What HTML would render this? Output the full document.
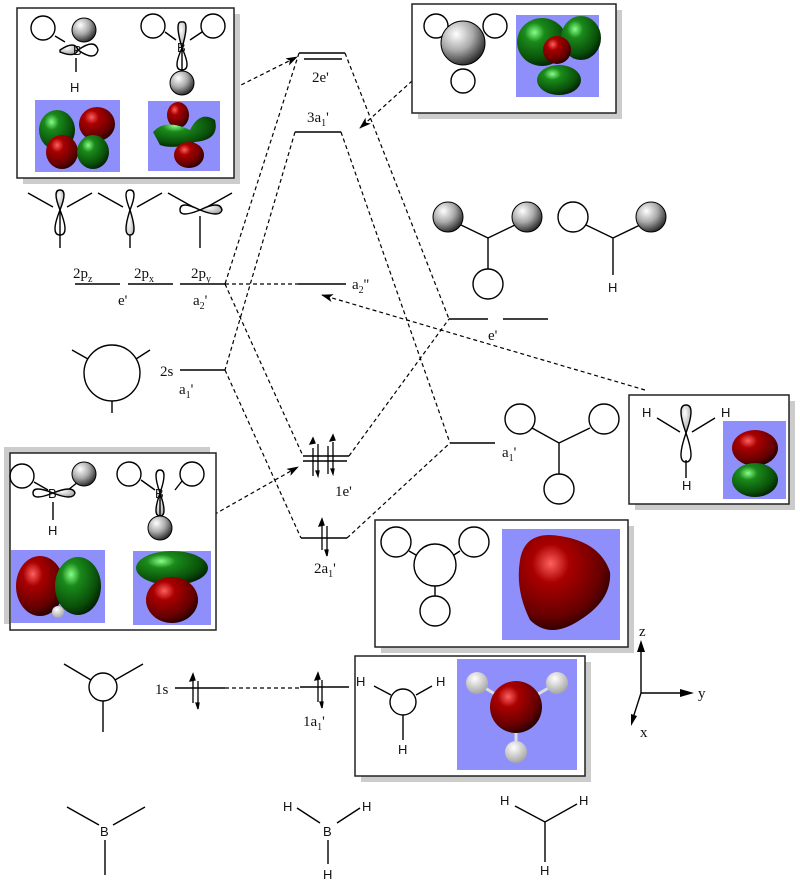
<!DOCTYPE html>
<html><head><meta charset="utf-8"><style>
html,body{margin:0;padding:0;background:#fff;}
svg{display:block;}
text{font-family:"Liberation Serif",serif;font-size:15px;fill:#111;}
.sans{font-family:"Liberation Sans",sans-serif;font-size:13px;}
</style></head><body>
<svg width="800" height="882" viewBox="0 0 800 882" xmlns="http://www.w3.org/2000/svg">
<defs>
<radialGradient id="gs" cx="0.35" cy="0.3" r="0.75"><stop offset="0" stop-color="#fff"/><stop offset="0.5" stop-color="#aaa"/><stop offset="1" stop-color="#222"/></radialGradient>
<radialGradient id="rd" cx="0.35" cy="0.3" r="0.8"><stop offset="0" stop-color="#ff6060"/><stop offset="0.25" stop-color="#a00"/><stop offset="0.7" stop-color="#600"/><stop offset="1" stop-color="#100"/></radialGradient>
<radialGradient id="gr" cx="0.35" cy="0.3" r="0.8"><stop offset="0" stop-color="#8f8"/><stop offset="0.25" stop-color="#1a8a1a"/><stop offset="0.7" stop-color="#0a500a"/><stop offset="1" stop-color="#010"/></radialGradient>
<radialGradient id="lb" cx="0.4" cy="0.3" r="0.8"><stop offset="0" stop-color="#fff"/><stop offset="1" stop-color="#999"/></radialGradient>
<marker id="ah" markerWidth="12" markerHeight="8" refX="11" refY="4" orient="auto" markerUnits="userSpaceOnUse"><path d="M0,0 L12,4 L0,8 L3,4 Z" fill="#000"/></marker>
</defs>

<g fill="none" stroke="#000" stroke-width="1.5">
<path d="M299,53H345 M304,59H342"/>
<path d="M295,132H341"/>
<path d="M298,284H346"/>
<path d="M75,284H120 M128,284H173 M180,284H225"/>
<path d="M180,370H225"/>
<path d="M303,456H349 M303,461H347"/>
<path d="M301,538H347"/>
<path d="M175,688H225 M300,687H349"/>
<path d="M449,319H488 M503,319H548"/>
<path d="M450,443H495"/>
</g>
<g stroke="#000" stroke-width="1.3" fill="#000">
<path d="M313,448V476 M318,444V472 M328,446V474 M333,442V470"/>
<path d="M310,444l3,-6 2,5z M318,476l-2,-5 3,0z M330,441l3,-6 2,5z M333,474l-2,-5 3,0z"/>
<path d="M322,520V550 M327,526V556 M319,526l3,-7 2,6z M327,556l-2,-6 3,0z"/>
<path d="M193,675V703 M198,681V709 M190,681l3,-7 2,6z M198,709l-2,-6 3,0z"/>
<path d="M318,674V702 M322,680V708 M315,680l3,-7 2,6z M322,708l-2,-6 3,0z"/>
</g>
<g fill="none" stroke="#000" stroke-width="1.2" stroke-dasharray="4,3">
<path d="M299,53L225,284 M295,132L225,370 M225,284L303,456 M225,370L301,538"/>
<path d="M345,53L449,319 M341,132L450,443 M349,456L449,319 M347,538L450,443"/>
<path d="M225,284H298 M225,688H300"/>
<path d="M235,88L297,57" marker-end="url(#ah)"/>
<path d="M433,62L360,128" marker-end="url(#ah)"/>
<path d="M645,390L322,295" marker-end="url(#ah)"/>
<path d="M208,518L298,467" marker-end="url(#ah)"/>
</g>
<text x="312" y="82">2e'</text>
<text x="307" y="122">3a<tspan font-size="10" dy="4">1</tspan><tspan dy="-4">'</tspan></text>
<text x="352" y="289">a<tspan font-size="10" dy="4">2</tspan><tspan dy="-4">''</tspan></text>
<text x="73" y="278">2p<tspan font-size="10" dy="4">z</tspan></text>
<text x="134" y="278">2p<tspan font-size="10" dy="4">x</tspan></text>
<text x="191" y="278">2p<tspan font-size="10" dy="4">y</tspan></text>
<text x="118" y="305">e'</text>
<text x="193" y="305">a<tspan font-size="10" dy="4">2</tspan><tspan dy="-4">'</tspan></text>
<text x="160" y="376">2s</text>
<text x="179" y="394">a<tspan font-size="10" dy="4">1</tspan><tspan dy="-4">'</tspan></text>
<text x="335" y="496">1e'</text>
<text x="314" y="573">2a<tspan font-size="10" dy="4">1</tspan><tspan dy="-4">'</tspan></text>
<text x="155" y="694">1s</text>
<text x="303" y="726">1a<tspan font-size="10" dy="4">1</tspan><tspan dy="-4">'</tspan></text>
<text x="488" y="340">e'</text>
<text x="502" y="457">a<tspan font-size="10" dy="4">1</tspan><tspan dy="-4">'</tspan></text>

<g fill="#ccc">
<rect x="23" y="14" width="217" height="170"/>
<rect x="418" y="10" width="204" height="109"/>
<rect x="635" y="401" width="160" height="109"/>
<rect x="4" y="447" width="206" height="177"/>
<rect x="381" y="526" width="253" height="127"/>
<rect x="361" y="662" width="230" height="120"/>
</g>
<g fill="#fff" stroke="#222" stroke-width="1.5">
<rect x="17" y="8" width="217" height="170"/>
<rect x="412" y="4" width="204" height="109"/>
<rect x="629" y="395" width="160" height="109"/>
<rect x="10" y="453" width="206" height="177"/>
<rect x="375" y="520" width="253" height="127"/>
<rect x="355" y="656" width="230" height="120"/>
</g>
<g fill="#8f8ffc">
<rect x="35" y="100" width="85" height="72"/>
<rect x="148" y="101" width="72" height="70"/>
<rect x="516" y="15" width="83" height="82"/>
<rect x="723" y="421" width="63" height="78"/>
<rect x="11" y="550" width="94" height="73"/>
<rect x="133" y="551" width="78" height="74"/>
<rect x="502" y="529" width="118" height="111"/>
<rect x="457" y="659" width="120" height="111"/>
</g>
<g>
<ellipse cx="57" cy="130" rx="18" ry="20" fill="url(#gr)"/>
<ellipse cx="97" cy="124" rx="18" ry="17" fill="url(#rd)"/>
<ellipse cx="62" cy="152" rx="16" ry="17" fill="url(#rd)"/>
<ellipse cx="93" cy="152" rx="16" ry="17" fill="url(#gr)"/>
<ellipse cx="178" cy="115" rx="11" ry="13" fill="url(#rd)"/>
<path d="M153,132 Q165,118 190,130 Q200,110 215,120 Q220,140 195,142 Q175,150 160,145 Z" fill="url(#gr)"/>
<ellipse cx="189" cy="155" rx="15" ry="13" fill="url(#rd)"/>
<ellipse cx="542" cy="42" rx="25" ry="24" fill="url(#gr)"/>
<ellipse cx="581" cy="38" rx="20" ry="22" fill="url(#gr)"/>
<ellipse cx="557" cy="50" rx="14" ry="14" fill="url(#rd)"/>
<ellipse cx="559" cy="80" rx="22" ry="15" fill="url(#gr)"/>
<ellipse cx="755" cy="448" rx="23" ry="18" fill="url(#rd)"/>
<ellipse cx="755" cy="480" rx="23" ry="17" fill="url(#gr)"/>
<ellipse cx="40" cy="586" rx="24" ry="30" fill="url(#rd)"/>
<ellipse cx="78" cy="586" rx="23" ry="29" fill="url(#gr)"/>
<circle cx="58" cy="612" r="6" fill="url(#lb)"/>
<ellipse cx="172" cy="568" rx="36" ry="17" fill="url(#gr)"/>
<ellipse cx="172" cy="600" rx="26" ry="23" fill="url(#rd)"/>
<path d="M520,560 Q525,530 560,536 Q600,542 610,572 Q612,600 580,620 Q550,640 530,620 Q515,590 520,560 Z" fill="url(#rd)"/>
<path d="M477,683L516,707L557,683 M516,707V752" fill="none" stroke="#ddd" stroke-width="3"/>
<circle cx="477" cy="683" r="11" fill="url(#lb)"/>
<circle cx="557" cy="683" r="11" fill="url(#lb)"/>
<circle cx="516" cy="752" r="11" fill="url(#lb)"/>
<circle cx="516" cy="707" r="26" fill="url(#rd)"/>
</g>

<g fill="none" stroke="#000" stroke-width="1.4">
<circle cx="43" cy="28" r="12"/>
<path d="M55,36L65,42 M78,38L92,32 M76,58V72"/>
<path d="M60,50 Q75,40 78,50 Q75,58 60,52 Z" fill="url(#lb)"/>
<path d="M78,50 Q95,38 98,50 Q95,62 78,50Z"/>
<circle cx="153" cy="26" r="12"/><circle cx="213" cy="26" r="12"/>
<path d="M165,32L176,40 M190,40L202,32"/>
<path d="M182,48 Q174,20 182,22 Q190,20 182,48Z" fill="url(#lb)"/>
<path d="M182,48 Q172,70 182,70 Q192,70 182,48Z M182,48V70"/>
<circle cx="436" cy="26" r="12"/><circle cx="495" cy="26" r="12"/><circle cx="463" cy="81" r="12"/>
<path d="M28,193L53,207 M92,193L67,207 M60,210V248"/>
<path d="M60,210 Q52,190 60,190 Q68,190 60,210Z" fill="url(#lb)"/>
<path d="M60,210 Q50,235 60,235 Q70,235 60,210Z"/>
<path d="M98,193L123,207 M162,193L137,207"/>
<path d="M130,210 Q122,190 130,190 Q138,190 130,210Z"/>
<path d="M130,210 Q122,235 130,235 Q138,235 130,210Z M130,235V248" fill="url(#lb)"/>
<path d="M168,193L193,207 M232,193L207,207 M200,216V248"/>
<path d="M200,210 Q180,200 180,210 Q180,218 200,210Z"/>
<path d="M200,210 Q220,200 222,210 Q220,218 200,210Z" fill="url(#lb)"/>
<circle cx="112" cy="373" r="28"/>
<path d="M72,350L88,359 M150,350L136,359 M112,401V413"/>
<circle cx="488" cy="284" r="15"/>
<path d="M461,225L488,238L515,225 M488,238V269"/>
<circle cx="573" cy="217" r="15"/>
<path d="M586,225L613,238L640,225 M613,238V275"/>
<circle cx="520" cy="419" r="15"/><circle cx="604" cy="419" r="15"/><circle cx="559" cy="489" r="15"/>
<path d="M532,428L559,443L590,428 M559,443V474"/>
<path d="M657,418L680,432 M715,418L692,432 M686,460V478"/>
<path d="M686,433 Q676,405 686,405 Q696,405 686,433Z" fill="url(#lb)"/>
<path d="M686,433 Q676,462 686,462 Q696,462 686,433Z"/>
<circle cx="22" cy="476" r="12"/>
<path d="M34,482L48,490 M68,490L78,482 M53,502V520"/>
<path d="M53,493 Q33,485 33,493 Q33,501 53,493Z"/>
<path d="M53,493 Q73,485 75,493 Q73,501 53,493Z" fill="url(#lb)"/>
<circle cx="129" cy="474" r="12"/><circle cx="192" cy="474" r="12"/>
<path d="M141,480L155,490 M175,490L182,481"/>
<path d="M160,493 Q152,470 160,470 Q168,470 160,493Z"/>
<path d="M160,493 Q152,516 160,516 Q168,516 160,493Z M160,493V520" fill="url(#lb)"/>
<circle cx="396" cy="542" r="15"/><circle cx="474" cy="542" r="15"/>
<circle cx="435" cy="565" r="21"/><circle cx="435" cy="611" r="15"/>
<path d="M409,551L416,555 M454,555L460,551 M435,586V596"/>
<circle cx="403" cy="702" r="13"/>
<path d="M374,686L391,695 M416,695L432,686 M403,715V740"/>
<circle cx="103" cy="687" r="14"/>
<path d="M64,664L91,680 M143,664L115,680 M103,701V732"/>
<path d="M67,807L99,825 M145,807L113,825 M105,840V875"/>
<path d="M297,808L320,823 M360,808L337,823 M328,840V864"/>
<path d="M515,806L545,822L577,804 M545,822V862"/>
<path d="M641,693V645 M641,693H684 M641,693L633,718"/>
</g>
<g fill="#000">
<path d="M641,640l-4,12h8z M694,693l-14,-4v8z M631,726l0,-12 6,2z"/>
</g>
<g>
<circle cx="84" cy="30" r="12" fill="url(#gs)" stroke="#000"/>
<circle cx="182" cy="83" r="12" fill="url(#gs)" stroke="#000"/>
<circle cx="463" cy="43" r="22" fill="url(#gs)" stroke="#000"/>
<circle cx="448" cy="217" r="15" fill="url(#gs)" stroke="#000"/>
<circle cx="527" cy="217" r="15" fill="url(#gs)" stroke="#000"/>
<circle cx="651" cy="217" r="15" fill="url(#gs)" stroke="#000"/>
<circle cx="84" cy="474" r="12" fill="url(#gs)" stroke="#000"/>
<circle cx="160" cy="528" r="12" fill="url(#gs)" stroke="#000"/>
</g>
<g class="sans">
<text class="sans" x="70" y="92">H</text>
<text class="sans" x="73" y="55">B</text>
<text class="sans" x="177" y="52">B</text>
<text class="sans" x="608" y="292">H</text>
<text class="sans" x="642" y="417">H</text>
<text class="sans" x="721" y="417">H</text>
<text class="sans" x="682" y="490">H</text>
<text class="sans" x="48" y="535">H</text>
<text class="sans" x="48" y="498">B</text>
<text class="sans" x="155" y="498">B</text>
<text class="sans" x="356" y="686">H</text>
<text class="sans" x="436" y="686">H</text>
<text class="sans" x="398" y="754">H</text>
<text class="sans" x="100" y="836">B</text>
<text class="sans" x="283" y="811">H</text>
<text class="sans" x="362" y="811">H</text>
<text class="sans" x="323" y="836">B</text>
<text class="sans" x="323" y="879">H</text>
<text class="sans" x="500" y="805">H</text>
<text class="sans" x="579" y="805">H</text>
<text class="sans" x="540" y="875">H</text>
</g>
<text x="639" y="636">z</text>
<text x="698" y="698">y</text>
<text x="640" y="737">x</text>
</svg>
</body></html>
